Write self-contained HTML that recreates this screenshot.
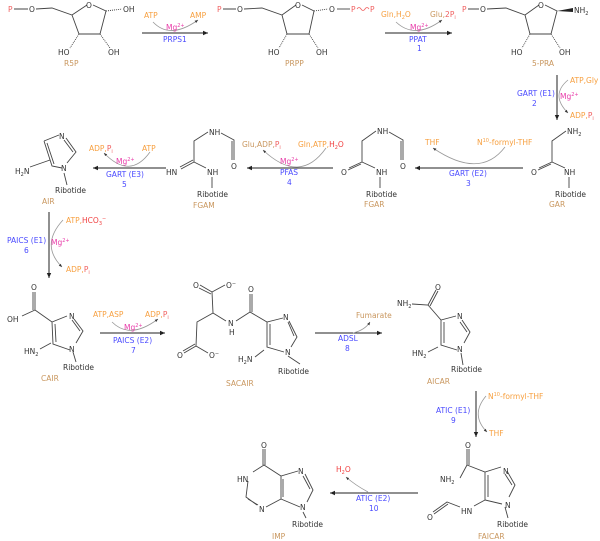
<!DOCTYPE html>
<html><head><meta charset="utf-8"><style>
html,body{margin:0;padding:0;background:#fff;}
svg{display:block;font-family:"DejaVu Sans","Liberation Sans",sans-serif;}
.b{stroke:#444;stroke-width:0.9;fill:none}
.c{stroke:#999;stroke-width:0.8;fill:none}
.a{stroke:#222;stroke-width:1;fill:none}
text{font-size:7.5px}
.k{fill:#333}
.o{fill:#f7a040}
.t{fill:#c9975f}
.bl{fill:#4a4aff}
.m{fill:#e83aa8}
.r{fill:#f04040}
.p{fill:#f06060}
</style></head><body>
<svg width="600" height="541" viewBox="0 0 600 541">
<defs>
<marker id="ah" markerWidth="6" markerHeight="6" refX="5" refY="3" orient="auto"><path d="M0,0.8 L5,3 L0,5.2 z" fill="#222"/></marker>
<marker id="sh" markerWidth="5" markerHeight="5" refX="4" refY="2.5" orient="auto"><path d="M0,0.8 L4,2.5 L0,4.2 z" fill="#333"/></marker>
</defs>

<!-- R5P -->
<text x="8" y="12" class="p">P</text>
<text x="29" y="12" class="k">O</text>
<path class="b" d="M14,9 H28 M36,9 L52,8 L72,15 L87,5 M93,5 L106,11 L100,34 L79,34 L72,15"/>
<path class="b" d="M106,11 L122,9" stroke-dasharray="1,1"/>
<path class="b" d="M79,34 L70,48 M100,34 L110,48" stroke-dasharray="1,1"/>
<text x="86" y="8" class="k">O</text>
<text x="123" y="12" class="k">OH</text>
<text x="58" y="55" class="k">HO</text>
<text x="108" y="55" class="k">OH</text>
<text x="64" y="66" class="t">R5P</text>

<!-- arrow 1 -->
<line class="a" x1="142" y1="33" x2="208" y2="33" marker-end="url(#ah)"/>
<path class="c" d="M153,22 Q170,40 198,20" marker-end="url(#sh)"/>
<text x="144" y="18" class="o">ATP</text>
<text x="190" y="18" class="o">AMP</text>
<text x="166" y="30" class="m">Mg<tspan font-size="5" dy="-3">2+</tspan></text>
<text x="163" y="42" class="bl">PRPS1</text>

<!-- PRPP -->
<text x="217" y="12" class="p">P</text>
<text x="237" y="12" class="k">O</text>
<path class="b" d="M223,9 H236 M244,9 L262,8 L282,15 L296,5 M302,5 L314,11 L309,34 L287,34 L282,15"/>
<path class="b" d="M314,11 L328,9 M287,34 L279,48 M309,34 L318,48" stroke-dasharray="1,1"/>
<text x="295" y="8" class="k">O</text>
<text x="329" y="12" class="k">O</text>
<path class="b" d="M337,9 H350"/>
<text x="351" y="12" class="p">P</text>
<path d="M357,9 q2,-3 4,0 t4,0 t4,0" stroke="#f06060" stroke-width="0.8" fill="none"/>
<text x="370" y="12" class="p">P</text>
<text x="268" y="55" class="k">HO</text>
<text x="316" y="55" class="k">OH</text>
<text x="285" y="66" class="t">PRPP</text>

<!-- arrow 2 -->
<line class="a" x1="385" y1="33" x2="452" y2="33" marker-end="url(#ah)"/>
<path class="c" d="M396,22 Q415,40 442,20" marker-end="url(#sh)"/>
<text x="381" y="17" class="o">Gln,H<tspan font-size="5" dy="2">2</tspan><tspan dy="-2">O</tspan></text>
<text x="430" y="17" class="t">Glu,<tspan class="p">2P<tspan font-size="5" dy="2">i</tspan></tspan></text>
<text x="410" y="30" class="m">Mg<tspan font-size="5" dy="-3">2+</tspan></text>
<text x="409" y="42" class="bl">PPAT</text>
<text x="417" y="51" class="bl">1</text>

<!-- 5-PRA -->
<text x="462" y="12" class="p">P</text>
<text x="480" y="12" class="k">O</text>
<path class="b" d="M468,9 H479 M487,9 L506,8 L525,15 L539,5 M545,5 L557,11 L551,34 L530,34 L525,15"/>
<path d="M557,11 L573,8 L573,12 z" fill="#222"/>
<path class="b" d="M530,34 L522,48 M551,34 L560,48" stroke-dasharray="1,1"/>
<text x="538" y="8" class="k">O</text>
<text x="574" y="13" class="k">NH<tspan font-size="5" dy="2">2</tspan></text>
<text x="511" y="55" class="k">HO</text>
<text x="559" y="55" class="k">OH</text>
<text x="532" y="66" class="t">5-PRA</text>

<!-- arrow down 2 -->
<line class="a" x1="557" y1="75" x2="557" y2="120" marker-end="url(#ah)"/>
<path class="c" d="M568,80 Q550,95 568,113" marker-end="url(#sh)"/>
<text x="570" y="83" class="o">ATP,Gly</text>
<text x="560" y="99" class="m">Mg<tspan font-size="5" dy="-3">2+</tspan></text>
<text x="570" y="118" class="o">ADP,<tspan class="p">P<tspan font-size="5" dy="2">i</tspan></tspan></text>
<text x="517" y="96" class="bl">GART (E1)</text>
<text x="532" y="106" class="bl">2</text>

<!-- GAR -->
<path class="b" d="M566,131 L552,141 L552,162 L565,168 M552,162 L539,168 M551,164 L538,170 M569,177 V188"/>
<text x="567" y="134" class="k">NH<tspan font-size="5" dy="2">2</tspan></text>
<text x="531" y="175" class="k">O</text>
<text x="564" y="175" class="k">NH</text>
<text x="555" y="197" class="k">Ribotide</text>
<text x="549" y="207" class="t">GAR</text>

<!-- arrow 3 -->
<line class="a" x1="523" y1="168" x2="415" y2="168" marker-end="url(#ah)"/>
<path class="c" d="M505,147 Q480,180 433,148" marker-end="url(#sh)"/>
<text x="425" y="145" class="o">THF</text>
<text x="477" y="145" class="o">N<tspan font-size="5" dy="-3">10</tspan><tspan dy="3">-formyl-THF</tspan></text>
<text x="449" y="176" class="bl">GART (E2)</text>
<text x="466" y="186" class="bl">3</text>

<!-- FGAR -->
<path class="b" d="M376,131 L362,141 L362,162 L375,168 M362,162 L349,168 M361,164 L348,170 M389,132 L403,140 L403,160 M401,141 L401,160 M380,177 V188"/>
<text x="377" y="134" class="k">NH</text>
<text x="341" y="175" class="k">O</text>
<text x="400" y="169" class="k">O</text>
<text x="376" y="175" class="k">NH</text>
<text x="366" y="197" class="k">Ribotide</text>
<text x="364" y="207" class="t">FGAR</text>

<!-- arrow 4 -->
<line class="a" x1="333" y1="168" x2="247" y2="168" marker-end="url(#ah)"/>
<path class="c" d="M326,148 Q300,185 263,150" marker-end="url(#sh)"/>
<text x="242" y="147" class="t">Glu,ADP,<tspan class="p">P<tspan font-size="5" dy="2">i</tspan></tspan></text>
<text x="298" y="147" class="o">Gln,ATP,<tspan class="r">H<tspan font-size="5" dy="2">2</tspan><tspan dy="-2">O</tspan></tspan></text>
<text x="280" y="164" class="m">Mg<tspan font-size="5" dy="-3">2+</tspan></text>
<text x="280" y="175" class="bl">PFAS</text>
<text x="287" y="185" class="bl">4</text>

<!-- FGAM -->
<path class="b" d="M208,132 L194,141 L194,162 L206,168 M194,162 L181,169 M193,160 L180,167 M221,133 L234,140 L234,160 M232,141 L232,160 M212,177 V188"/>
<text x="209" y="135" class="k">NH</text>
<text x="166" y="175" class="k">HN</text>
<text x="231" y="169" class="k">O</text>
<text x="207" y="175" class="k">NH</text>
<text x="197" y="197" class="k">Ribotide</text>
<text x="193" y="208" class="t">FGAM</text>

<!-- arrow 5 -->
<line class="a" x1="166" y1="168" x2="93" y2="168" marker-end="url(#ah)"/>
<path class="c" d="M150,152 Q130,180 104,153" marker-end="url(#sh)"/>
<text x="89" y="151" class="o">ADP,<tspan class="p">P<tspan font-size="5" dy="2">i</tspan></tspan></text>
<text x="142" y="151" class="o">ATP</text>
<text x="116" y="164" class="m">Mg<tspan font-size="5" dy="-3">2+</tspan></text>
<text x="106" y="177" class="bl">GART (E3)</text>
<text x="122" y="187" class="bl">5</text>

<!-- AIR -->
<path class="b" d="M44,141 L59,135 M66,138 L76,152 L67,163 M62,168 L52,166 L44,141 M47,143 L54,164 M64,140 L73,152 M50,160 L30,167 M64,173 L67,185"/>
<text x="59" y="139" class="k">N</text>
<text x="61" y="171" class="k">N</text>
<text x="15" y="174" class="k">H<tspan font-size="5" dy="2">2</tspan><tspan dy="-2">N</tspan></text>
<text x="55" y="193" class="k">Ribotide</text>
<text x="42" y="204" class="t">AIR</text>

<!-- arrow 6 -->
<line class="a" x1="49" y1="212" x2="49" y2="278" marker-end="url(#ah)"/>
<path class="c" d="M63,220 Q40,245 62,267" marker-end="url(#sh)"/>
<text x="66" y="223" class="o">ATP,<tspan class="r">HCO<tspan font-size="5" dy="2">3</tspan><tspan font-size="5" dy="-5">−</tspan></tspan></text>
<text x="51" y="245" class="m">Mg<tspan font-size="5" dy="-3">2+</tspan></text>
<text x="66" y="272" class="o">ADP,<tspan class="p">P<tspan font-size="5" dy="2">i</tspan></tspan></text>
<text x="7" y="243" class="bl">PAICS (E1)</text>
<text x="24" y="253" class="bl">6</text>

<!-- CAIR -->
<path class="b" d="M35,310 L35,292 M33,310 L33,292 M35,310 L22,316 M35,310 L52,322 L67,316 M74,319 L83,331 L76,343 M70,350 L53,344 L52,322 M55,324 L56,342 M72,320 L80,331 M51,343 L40,349 M73,352 L76,362"/>
<text x="31" y="290" class="k">O</text>
<text x="7" y="322" class="k">OH</text>
<text x="69" y="319" class="k">N</text>
<text x="69" y="352" class="k">N</text>
<text x="24" y="354" class="k">HN<tspan font-size="5" dy="2">2</tspan></text>
<text x="63" y="370" class="k">Ribotide</text>
<text x="41" y="381" class="t">CAIR</text>

<!-- arrow 7 -->
<line class="a" x1="100" y1="333" x2="165" y2="333" marker-end="url(#ah)"/>
<path class="c" d="M112,322 Q130,340 158,319" marker-end="url(#sh)"/>
<text x="93" y="317" class="o">ATP,ASP</text>
<text x="145" y="317" class="o">ADP,<tspan class="p">P<tspan font-size="5" dy="2">i</tspan></tspan></text>
<text x="124" y="330" class="m">Mg<tspan font-size="5" dy="-3">2+</tspan></text>
<text x="113" y="343" class="bl">PAICS (E2)</text>
<text x="131" y="353" class="bl">7</text>

<!-- SACAIR -->
<path class="b" d="M200,285 L212,292 M199,288 L211,294 M212,292 L225,285 M212,292 L213,313 L226,321 M213,313 L197,322 L196,346 L184,353 M195,344 L183,351 M196,346 L208,353 M236,321 L250,312 L250,294 M252,312 L252,294 M250,312 L267,322 L283,318 M289,321 L297,337 L291,347 M284,352 L267,347 L267,322 M270,324 L270,345 M288,322 L294,336 M264,350 L255,357 M288,356 L300,364"/>
<text x="193" y="288" class="k">O</text>
<text x="226" y="288" class="k">O<tspan font-size="5" dy="-3">−</tspan></text>
<text x="228" y="326" class="k">N</text>
<text x="229" y="335" class="k">H</text>
<text x="248" y="292" class="k">O</text>
<text x="283" y="320" class="k">N</text>
<text x="285" y="355" class="k">N</text>
<text x="177" y="358" class="k">O</text>
<text x="209" y="358" class="k">O<tspan font-size="5" dy="-3">−</tspan></text>
<text x="238" y="362" class="k">H<tspan font-size="5" dy="2">2</tspan><tspan dy="-2">N</tspan></text>
<text x="278" y="374" class="k">Ribotide</text>
<text x="226" y="386" class="t">SACAIR</text>

<!-- arrow 8 -->
<line class="a" x1="315" y1="333" x2="382" y2="333" marker-end="url(#ah)"/>
<path class="c" d="M353,333 Q365,330 370,322" marker-end="url(#sh)"/>
<text x="356" y="318" class="t">Fumarate</text>
<text x="338" y="341" class="bl">ADSL</text>
<text x="345" y="351" class="bl">8</text>

<!-- AICAR -->
<path class="b" d="M428,305 L436,290 M430,306 L438,291 M412,304 L428,305 L441,320 L456,316 M462,320 L470,332 L464,343 M457,350 L441,345 L441,320 M444,322 L444,343 M460,322 L467,332 M438,347 L428,352 M461,353 L463,365"/>
<text x="435" y="290" class="k">O</text>
<text x="397" y="306" class="k">NH<tspan font-size="5" dy="2">2</tspan></text>
<text x="457" y="319" class="k">N</text>
<text x="457" y="352" class="k">N</text>
<text x="412" y="356" class="k">HN<tspan font-size="5" dy="2">2</tspan></text>
<text x="451" y="372" class="k">Ribotide</text>
<text x="427" y="384" class="t">AICAR</text>

<!-- arrow 9 -->
<line class="a" x1="476" y1="391" x2="476" y2="437" marker-end="url(#ah)"/>
<path class="c" d="M486,396 Q470,415 487,432" marker-end="url(#sh)"/>
<text x="488" y="399" class="o">N<tspan font-size="5" dy="-3">10</tspan><tspan dy="3">-formyl-THF</tspan></text>
<text x="489" y="436" class="o">THF</text>
<text x="436" y="413" class="bl">ATIC (E1)</text>
<text x="451" y="423" class="bl">9</text>

<!-- FAICAR -->
<path class="b" d="M467,465 L467,449 M469,465 L469,449 M467,465 L460,478 M467,465 L485,472 L501,467 M507,471 L515,485 L509,497 M502,504 L485,500 L485,472 M488,475 L488,497 M505,474 L512,485 M485,500 L474,506 M460,507 L447,502 L433,512 M448,504 L434,514 M505,507 L508,518"/>
<text x="465" y="448" class="k">O</text>
<text x="440" y="482" class="k">NH<tspan font-size="5" dy="2">2</tspan></text>
<text x="503" y="474" class="k">N</text>
<text x="505" y="508" class="k">N</text>
<text x="461" y="514" class="k">HN</text>
<text x="427" y="520" class="k">O</text>
<text x="497" y="527" class="k">Ribotide</text>
<text x="478" y="539" class="t">FAICAR</text>

<!-- arrow 10 -->
<line class="a" x1="418" y1="493" x2="330" y2="493" marker-end="url(#ah)"/>
<path class="c" d="M368,492 Q355,485 346,477" marker-end="url(#sh)"/>
<text x="336" y="472" class="r">H<tspan font-size="5" dy="2">2</tspan><tspan dy="-2">O</tspan></text>
<text x="356" y="501" class="bl">ATIC (E2)</text>
<text x="369" y="511" class="bl">10</text>

<!-- IMP -->
<path class="b" d="M263,465 L263,449 M265,465 L265,449 M264,465 L281,476 L298,471 M264,465 L253,472 M248,481 L246,497 L257,505 M248,499 L258,505 M266,507 L281,499 L281,476 M283,479 L283,497 M305,474 L313,490 L307,502 M300,507 L281,499 M303,476 L310,489 M303,512 L306,518"/>
<text x="261" y="448" class="k">O</text>
<text x="237" y="482" class="k">HN</text>
<text x="259" y="512" class="k">N</text>
<text x="298" y="474" class="k">N</text>
<text x="300" y="510" class="k">N</text>
<text x="292" y="527" class="k">Ribotide</text>
<text x="272" y="539" class="t">IMP</text>
</svg>
</body></html>
